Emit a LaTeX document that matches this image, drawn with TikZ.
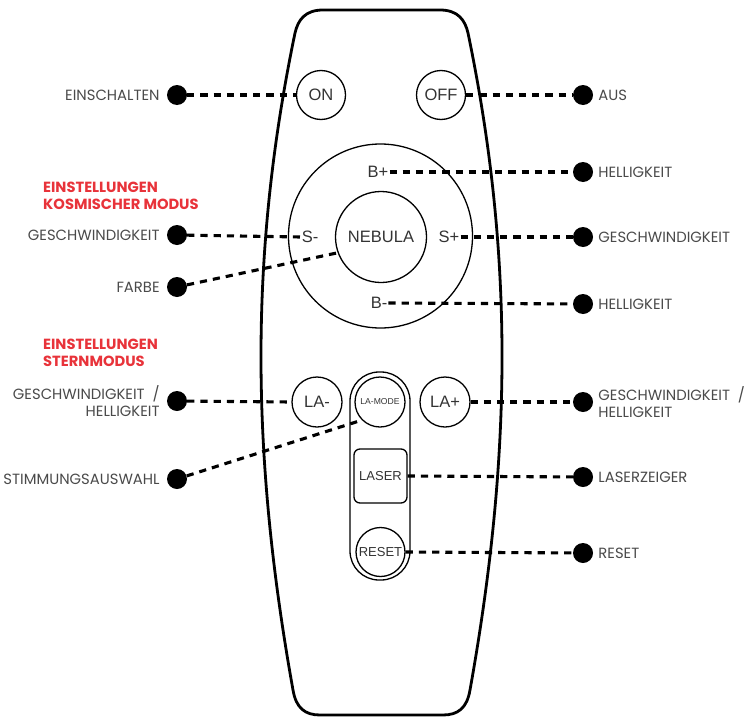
\documentclass[tikz,border=0pt]{standalone}
\usepackage{fontspec}
\setmainfont{Poppins}
\newfontfamily\btnfont{Liberation Sans}
\definecolor{lblgray}{HTML}{4A4A4A}
\definecolor{hdred}{HTML}{E8333A}
\definecolor{btngray}{HTML}{333333}
\begin{document}
\begin{tikzpicture}[x=1pt,y=-1pt,
  body/.style={line width=2.8pt, line join=round},
  btn/.style={circle, draw, line width=1.3pt, inner sep=0pt, minimum size=#1, font=\btnfont\fontsize{16.5}{18}\selectfont, text=btngray},
  btntxt/.style={inner sep=1pt, font=\btnfont\fontsize{16.5}{18}\selectfont, text=btngray},
  dot/.style={circle, fill=black, inner sep=0pt, minimum size=20pt},
  conn/.style={line width=3.1pt, dash pattern=on 7.2pt off 6pt},
  lblL/.style={anchor=east, inner sep=0pt, xshift=-7pt, font=\fontsize{14.8}{17}\selectfont, text=lblgray, align=right},
  lblR/.style={anchor=west, inner sep=0pt, xshift=5pt, font=\fontsize{14.8}{17}\selectfont, text=lblgray, align=left},
  head/.style={anchor=west, inner sep=0pt, font=\bfseries\fontsize{14.7}{17}\selectfont, text=hdred, align=left}
]
\useasboundingbox (0,0) rectangle (746,717);
% body
\draw[body] (323,10) -- (440,10) .. controls (458,10) and (465,20) .. (468,33)
  .. controls (513,250) and (513,450) .. (470,690)
  .. controls (467,708) and (458,715) .. (443,715) -- (320,715)
  .. controls (305,715) and (296,708) .. (293,690)
  .. controls (250,450) and (250,250) .. (295,33)
  .. controls (298,20) and (305,10) .. (323,10) -- cycle;

% buttons
\node[btn=49pt] (on) at (321,95) {ON};
\node[btn=49pt] (off) at (441,95) {OFF};
\node[circle, draw, line width=1.3pt, minimum size=184pt, inner sep=0pt] (ring) at (380.5,236) {};
\node[btn=91pt] (neb) at (381,237) {NEBULA};
\node[btntxt] (bp) at (378,172) {B+};
\node[btntxt] (bm) at (379,303) {B-};
\node[btntxt] (sm) at (310,237) {S-};
\node[btntxt] (sp) at (449,237) {S+};

\node[draw, line width=1.3pt, rounded corners=29pt, minimum width=60pt, minimum height=208pt, inner sep=0pt] (pill) at (380,476) {};
\node[btn=50pt] (lam) at (317,402) {LA-};
\node[btn=50pt] (lap) at (445,402) {LA+};
\node[btn=50pt, font=\btnfont\fontsize{8.6}{10}\selectfont] (lamode) at (380,402) {LA-MODE};
\node[draw, line width=1.3pt, rounded corners=6pt, minimum width=53pt, minimum height=54pt, inner sep=0pt, font=\btnfont\fontsize{13}{15}\selectfont, text=btngray] (laser) at (380.5,476) {LASER};
\node[btn=49pt, font=\btnfont\fontsize{13}{15}\selectfont] (reset) at (380.5,552) {RESET};

% dots
\node[dot] (dOn) at (177,95) {};
\node[dot] (dSm) at (177,235) {};
\node[dot] (dFarbe) at (177,287) {};
\node[dot] (dLam) at (177,401) {};
\node[dot] (dStim) at (177,479) {};
\node[dot] (dOff) at (583,95) {};
\node[dot] (dBp) at (583,172) {};
\node[dot] (dSp) at (583,237) {};
\node[dot] (dBm) at (583,304) {};
\node[dot] (dLap) at (583,402) {};
\node[dot] (dLaser) at (583,477) {};
\node[dot] (dReset) at (583,553) {};

% connectors
\draw[conn] (dOn) -- (on.west);
\draw[conn] (dSm) -- (sm.west);
\draw[conn] (dFarbe) -- (neb.200);
\draw[conn] (dLam) -- (lam.west);
\draw[conn] (dStim) -- (lamode.225);
\draw[conn] (off.east) -- (dOff);
\draw[conn] (bp.east) -- (dBp);
\draw[conn] (sp.east) -- (dSp);
\draw[conn] (bm.east) -- (dBm);
\draw[conn] (lap.east) -- (dLap);
\draw[conn] (laser.east) -- (dLaser);
\draw[conn] (reset.east) -- (dReset);

% labels
\node[lblL] at (dOn.west) {EINSCHALTEN};
\node[lblL] at (dSm.west) {GESCHWINDIGKEIT};
\node[lblL] at (dFarbe.west) {FARBE};
\node[lblL] at (dLam.west) {GESCHWINDIGKEIT \ /\\HELLIGKEIT};
\node[lblL] at (dStim.west) {STIMMUNGSAUSWAHL};
\node[lblR] at (dOff.east) {AUS};
\node[lblR] at (dBp.east) {HELLIGKEIT};
\node[lblR] at (dSp.east) {GESCHWINDIGKEIT};
\node[lblR] at (dBm.east) {HELLIGKEIT};
\node[lblR] at (dLap.east) {GESCHWINDIGKEIT \ /\\HELLIGKEIT};
\node[lblR] at (dLaser.east) {LASERZEIGER};
\node[lblR] at (dReset.east) {RESET};

\node[head] (h1) at (43,195.5) {EINSTELLUNGEN\\KOSMISCHER MODUS};
\node[head] (h2) at (43,352.5) {EINSTELLUNGEN\\STERNMODUS};
\end{tikzpicture}
\end{document}
